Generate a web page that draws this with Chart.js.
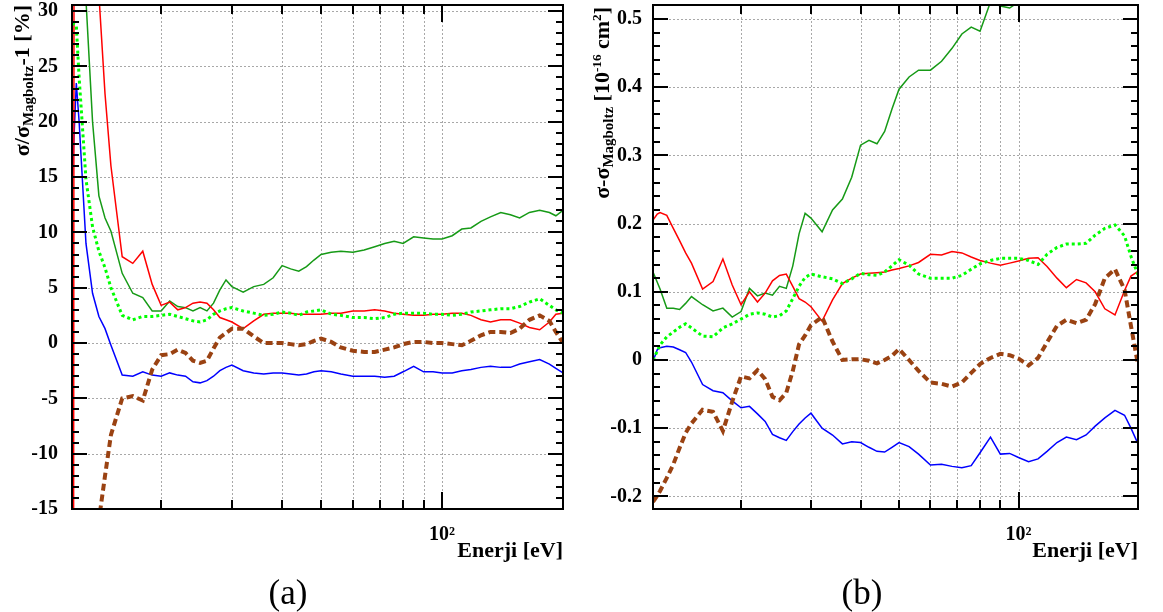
<!DOCTYPE html>
<html>
<head>
<meta charset="utf-8">
<script src="https://cdn.jsdelivr.net/npm/chart.js@4.4.0/dist/chart.umd.min.js"></script>
<style>
    html, body { margin: 0; padding: 0; background: #fff; }
    #page { position: relative; width: 1163px; height: 612px; overflow: hidden; }
    canvas { position: absolute; top: 0; }
    .ytitle {
        position: absolute; width: 400px; text-align: right; white-space: nowrap;
        transform-origin: 0 0; transform: rotate(-90deg);
        font: bold 22px "Liberation Serif", serif; line-height: 22px; color: #000;
    }
    .xtitle { position: absolute; white-space: nowrap; font: bold 22px "Liberation Serif", serif; line-height: 22px; color: #000; }
    .sub { font-size: 0.68em; position: relative; top: 0.3em; line-height: 0; }
    .sup { font-size: 0.6em; position: relative; top: -0.6em; line-height: 0; }
    .caption { position: absolute; top: 575px; width: 100px; text-align: center; font: 35px "Liberation Serif", serif; line-height: 35px; color: #000; }
</style>
</head>
<body>
<div id="page">
    <canvas id="chartA" width="580" height="612" style="left:0px; width:580px; height:612px"></canvas>
    <canvas id="chartB" width="583" height="612" style="left:580px; width:583px; height:612px"></canvas>
    <div class="ytitle" style="left:11px; top:405px">σ/σ<span class="sub">Magboltz</span>-1 [%]</div>
    <div class="ytitle" style="left:591px; top:407px">σ-σ<span class="sub">Magboltz</span> [10<span class="sup">-16</span> cm<span class="sup">2</span>]</div>
    <div class="xtitle" style="right:600px; top:539px">Enerji [eV]</div>
    <div class="xtitle" style="right:25px; top:539px">Enerji [eV]</div>
    <div class="caption" style="left:238px">(a)</div>
    <div class="caption" style="left:812px">(b)</div>
</div>
<script>
// energy points (eV), shared by every curve
const energies = [12, 12.3, 12.5, 13, 13.5, 14, 14.5, 15, 16, 17, 18, 19, 20, 21, 22, 23, 24, 25, 26, 27, 28, 29, 30,
    32, 34, 36, 38, 40, 42, 44, 46, 48, 50, 53, 56, 60, 64, 68, 72, 76, 80, 85, 90, 95, 100,
    106, 112, 118, 125, 132, 140, 148, 156, 165, 175, 185, 192, 200];

// (a) relative difference [%]
const aRed = [-200, 300, 200, 120, 60, 31.5, 22.5, 16, 7.8, 7.2, 8.3, 5.3, 3.4, 3.7, 3.0, 3.2, 3.6, 3.7, 3.6, 3.0, 2.3, 2.1, 1.9,
    1.3, 2.0, 2.6, 2.7, 2.7, 2.7, 2.6, 2.6, 2.6, 2.6, 2.7, 2.7, 2.9, 2.9, 3.0, 2.9, 2.7, 2.6, 2.5, 2.5, 2.6, 2.6,
    2.7, 2.7, 2.5, 2.1, 1.9, 2.1, 2.1, 1.8, 1.4, 1.2, 1.9, 2.6, 2.7];
const aGreen = [80, 70, 45, 31, 20, 13.3, 11.3, 10.1, 6.3, 4.5, 4.1, 2.9, 2.9, 3.8, 3.3, 3.2, 2.9, 3.2, 2.9, 3.6, 4.8, 5.7, 5.1,
    4.6, 5.1, 5.3, 5.9, 7.0, 6.7, 6.5, 6.9, 7.5, 8.0, 8.2, 8.3, 8.2, 8.4, 8.7, 9.0, 9.2, 9.0, 9.6, 9.5, 9.4, 9.4,
    9.7, 10.3, 10.4, 11.0, 11.4, 11.8, 11.6, 11.3, 11.8, 12.0, 11.8, 11.5, 12.0];
const aBlue = [14.4, 23.5, 20, 9.0, 4.5, 2.4, 1.3, -0.2, -2.9, -3.0, -2.6, -2.9, -3.0, -2.7, -2.9, -3.0, -3.5, -3.6, -3.4, -3.0, -2.5, -2.2, -2.0,
    -2.5, -2.7, -2.8, -2.7, -2.7, -2.8, -2.9, -2.8, -2.6, -2.5, -2.6, -2.8, -3.0, -3.0, -3.0, -3.1, -3.0, -2.6, -2.1, -2.6, -2.6, -2.7,
    -2.7, -2.5, -2.4, -2.2, -2.1, -2.2, -2.2, -1.9, -1.7, -1.5, -1.9, -2.3, -2.7];
const aLime = [28.9, 28.7, 24, 14.8, 10.5, 8.3, 6.8, 5.0, 2.5, 2.1, 2.4, 2.4, 2.5, 2.6, 2.4, 2.2, 2.0, 1.9, 2.1, 2.6, 2.9, 3.1, 3.2,
    2.9, 2.7, 2.5, 2.6, 2.8, 2.7, 2.5, 2.8, 2.9, 3.0, 2.6, 2.5, 2.3, 2.3, 2.2, 2.3, 2.6, 2.7, 2.7, 2.7, 2.6, 2.6,
    2.5, 2.6, 2.8, 2.9, 3.0, 3.1, 3.1, 3.3, 3.7, 4.0, 3.4, 3.0, 2.7];
const aBrown = [-50, -45, -38, -28, -21, -16, -12, -8.3, -5.0, -4.8, -5.2, -2.4, -1.1, -1.0, -0.6, -0.9, -1.6, -1.8, -1.6, -0.5, 0.5, 0.9, 1.3,
    1.3, 0.6, 0, 0, 0, -0.1, -0.2, -0.1, 0.2, 0.4, 0.1, -0.4, -0.7, -0.8, -0.8, -0.6, -0.4, -0.1, 0.1, 0.1, 0, 0,
    -0.1, -0.2, 0.2, 0.7, 1.0, 1.0, 0.9, 1.3, 2.1, 2.5, 2.0, 1.0, 0];

// (b) absolute difference [1e-16 cm2]
const bRed = [0.205, 0.214, 0.216, 0.212, 0.193, 0.175, 0.157, 0.142, 0.104, 0.115, 0.148, 0.110, 0.081, 0.100, 0.085, 0.098, 0.116, 0.124, 0.126, 0.108, 0.090, 0.085, 0.078,
    0.057, 0.088, 0.112, 0.120, 0.126, 0.127, 0.128, 0.129, 0.132, 0.134, 0.138, 0.143, 0.155, 0.154, 0.159, 0.157, 0.151, 0.146, 0.142, 0.139, 0.142, 0.145,
    0.149, 0.150, 0.137, 0.120, 0.106, 0.118, 0.113, 0.100, 0.075, 0.066, 0.102, 0.123, 0.130];
const bGreen = [0.129, 0.114, 0.104, 0.076, 0.076, 0.074, 0.083, 0.093, 0.081, 0.072, 0.076, 0.063, 0.071, 0.105, 0.094, 0.098, 0.095, 0.108, 0.105, 0.138, 0.185, 0.215, 0.208,
    0.188, 0.220, 0.236, 0.268, 0.315, 0.322, 0.317, 0.335, 0.368, 0.397, 0.415, 0.425, 0.425, 0.438, 0.457, 0.478, 0.488, 0.482, 0.525, 0.519, 0.516, 0.525,
    0.56, 0.58, 0.60, 0.61, 0.63, 0.65, 0.66, 0.68, 0.70, 0.71, 0.72, 0.73, 0.74];
const bBlue = [-0.002, 0.015, 0.018, 0.020, 0.019, 0.015, 0.011, -0.003, -0.036, -0.045, -0.048, -0.060, -0.070, -0.068, -0.079, -0.090, -0.109, -0.114, -0.118, -0.105, -0.094, -0.085, -0.078,
    -0.100, -0.110, -0.123, -0.120, -0.121, -0.128, -0.134, -0.135, -0.128, -0.121, -0.127, -0.138, -0.154, -0.153, -0.156, -0.158, -0.155, -0.136, -0.113, -0.138, -0.137, -0.143,
    -0.149, -0.145, -0.134, -0.121, -0.113, -0.117, -0.110, -0.097, -0.085, -0.074, -0.081, -0.100, -0.123];
const bLime = [0.000, 0.013, 0.022, 0.034, 0.041, 0.048, 0.053, 0.047, 0.035, 0.034, 0.047, 0.053, 0.060, 0.067, 0.069, 0.067, 0.063, 0.065, 0.072, 0.090, 0.108, 0.121, 0.126,
    0.122, 0.119, 0.112, 0.119, 0.127, 0.125, 0.124, 0.129, 0.138, 0.147, 0.139, 0.126, 0.120, 0.120, 0.120, 0.124, 0.133, 0.141, 0.146, 0.149, 0.149, 0.149,
    0.146, 0.140, 0.155, 0.165, 0.170, 0.170, 0.171, 0.183, 0.193, 0.198, 0.182, 0.152, 0.125];
const bBrown = [-0.208, -0.199, -0.192, -0.173, -0.153, -0.129, -0.107, -0.093, -0.073, -0.076, -0.104, -0.061, -0.024, -0.027, -0.015, -0.028, -0.054, -0.059, -0.048, -0.016, 0.023, 0.036, 0.051,
    0.063, 0.027, 0.000, 0.001, 0.001, -0.001, -0.005, 0.000, 0.006, 0.016, 0.000, -0.016, -0.033, -0.035, -0.039, -0.033, -0.019, -0.006, 0.003, 0.009, 0.007, 0.002,
    -0.008, 0.003, 0.026, 0.050, 0.059, 0.054, 0.059, 0.082, 0.120, 0.133, 0.103, 0.050, -0.007];

// axes
const xGridTicks = [20, 30, 40, 50, 60, 70, 80, 90, 100];
const xMajorTick = 100;
const aYTicks = [-15, -10, -5, 0, 5, 10, 15, 20, 25, 30];
const aYLabels = ['-15', '-10', '-5', '0', '5', '10', '15', '20', '25', '30'];
const bYTicks = [-0.2, -0.1, 0, 0.1, 0.2, 0.3, 0.4, 0.5];
const bYLabels = ['-0.2', '-0.1', '0', '0.1', '0.2', '0.3', '0.4', '0.5'];

const labelFont = { family: '"Liberation Serif", "Times New Roman", serif', size: 20, weight: 'bold' };

// ROOT-like frame: dotted grid under the curves, frame and inward ticks on top
const rootFrame = {
    id: 'rootFrame',
    beforeDatasetsDraw(chart, args, opts) {
        const { ctx, chartArea: a } = chart;
        const xs = chart.scales.x, ys = chart.scales.y;
        ctx.save();
        ctx.strokeStyle = '#a8a8a8';
        ctx.lineWidth = 1;
        ctx.setLineDash([2, 2]);
        ctx.beginPath();
        xGridTicks.forEach(v => {
            const px = Math.round(xs.getPixelForValue(v)) + 0.5;
            ctx.moveTo(px, a.top);
            ctx.lineTo(px, a.bottom);
        });
        opts.yTicks.forEach(v => {
            const py = Math.round(ys.getPixelForValue(v)) + 0.5;
            ctx.moveTo(a.left, py);
            ctx.lineTo(a.right, py);
        });
        ctx.stroke();
        ctx.restore();
    },
    afterDraw(chart) {
        const { ctx, chartArea: a } = chart;
        const xs = chart.scales.x, ys = chart.scales.y;
        const step = chart.options.plugins.rootFrame.minorStep;
        const left = Math.round(a.left), right = Math.round(a.right);
        const top = Math.round(a.top), bottom = Math.round(a.bottom);
        ctx.save();
        ctx.fillStyle = '#000';
        const n0 = Math.ceil(ys.min / step - 1e-6), n1 = Math.floor(ys.max / step + 1e-6);
        for (let n = n0; n <= n1; n++) {
            const len = Math.abs(n) % 5 === 0 ? 15 : 7;
            const py = Math.round(ys.getPixelForValue(n * step));
            ctx.fillRect(left, py - 1, len, 2);
            ctx.fillRect(right - len, py - 1, len, 2);
        }
        xGridTicks.forEach(v => {
            const len = v === xMajorTick ? 17 : 9;
            const px = Math.round(xs.getPixelForValue(v));
            ctx.fillRect(px - 1, bottom - len, 2, len);
            ctx.fillRect(px - 1, top, 2, len);
        });
        ctx.fillRect(left - 1, top - 1, right - left + 2, 2);
        ctx.fillRect(left - 1, bottom - 1, right - left + 2, 2);
        ctx.fillRect(left - 1, top - 1, 2, bottom - top + 2);
        ctx.fillRect(right - 1, top - 1, 2, bottom - top + 2);
        ctx.restore();
    }
};
Chart.register(rootFrame);

function toPoints(values) {
    return energies.map((e, i) => ({ x: e, y: values[i] }));
}

function makePanel(canvasId, cfg) {
    const ctx = document.getElementById(canvasId);
    return new Chart(ctx, {
        type: 'line',
        data: {
            datasets: [
                { data: toPoints(cfg.brown), borderColor: '#9a4212', borderWidth: 4, borderDash: [7, 4], order: 0 },
                { data: toPoints(cfg.lime), borderColor: '#00ff00', borderWidth: 3, borderDash: [3, 3], order: 1 },
                { data: toPoints(cfg.red), borderColor: '#ff0000', borderWidth: 1.5, order: 2 },
                { data: toPoints(cfg.green), borderColor: '#169a16', borderWidth: 1.5, order: 3 },
                { data: toPoints(cfg.blue), borderColor: '#0000ff', borderWidth: 1.5, order: 4 }
            ]
        },
        options: {
            responsive: false,
            animation: false,
            events: [],
            layout: { padding: { top: 5, right: cfg.padRight, bottom: 0, left: 0 } },
            elements: { point: { radius: 0 }, line: { tension: 0, fill: false } },
            plugins: {
                legend: { display: false },
                tooltip: { enabled: false },
                rootFrame: { yTicks: cfg.yTicks, minorStep: cfg.minorStep }
            },
            scales: {
                x: {
                    type: 'logarithmic',
                    min: 12,
                    max: 200,
                    grid: { display: false },
                    border: { display: false },
                    afterBuildTicks: s => { s.ticks = xGridTicks.map(v => ({ value: v })); },
                    afterFit: s => { s.height = 103; s.paddingLeft = 0; s.paddingRight = 0; },
                    ticks: {
                        autoSkip: false, maxRotation: 0, padding: 6, color: '#000', font: labelFont,
                        callback: v => (Math.abs(v - xMajorTick) < 1e-6 ? '10\u00b2' : '')
                    }
                },
                y: {
                    type: 'linear',
                    min: cfg.yMin,
                    max: cfg.yMax,
                    grid: { display: false },
                    border: { display: false },
                    afterBuildTicks: s => { s.ticks = cfg.yTicks.map(v => ({ value: v })); },
                    afterFit: s => { s.width = cfg.axisWidth; s.paddingTop = 0; s.paddingBottom = 0; },
                    ticks: { padding: cfg.labelPad, color: '#000', font: labelFont, callback: (v, i) => cfg.yLabels[i] }
                }
            }
        }
    });
}

makePanel('chartA', {
    red: aRed, green: aGreen, blue: aBlue, lime: aLime, brown: aBrown,
    yMin: -15, yMax: 30.55, yTicks: aYTicks, yLabels: aYLabels, minorStep: 1,
    axisWidth: 72, padRight: 17, labelPad: 6
});

makePanel('chartB', {
    red: bRed, green: bGreen, blue: bBlue, lime: bLime, brown: bBrown,
    yMin: -0.2185, yMax: 0.5205, yTicks: bYTicks, yLabels: bYLabels, minorStep: 0.02,
    axisWidth: 73, padRight: 25, labelPad: 3
});
</script>
</body>
</html>
